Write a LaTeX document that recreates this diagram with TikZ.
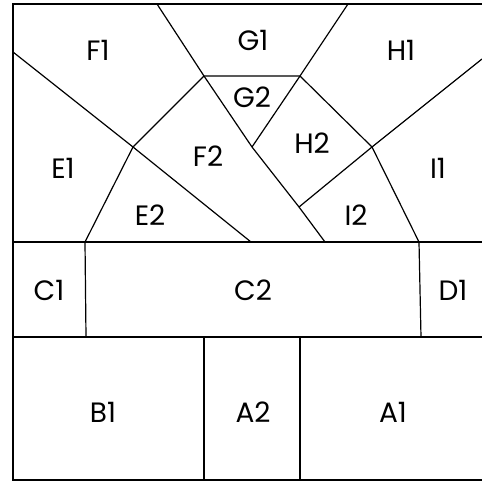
\documentclass[tikz,border=0pt]{standalone}
\usepackage{fontspec}
\setmainfont{Poppins}
\begin{document}
\begin{tikzpicture}[x=1pt,y=-1pt,
  edge/.style={draw=black,line width=1.2pt},
  frame/.style={draw=black,line width=2.2pt},
  lbl/.style={font=\fontsize{28}{28}\selectfont,inner sep=0pt,anchor=center}]
\useasboundingbox (0,0) rectangle (482,481);
% vertices
\coordinate (tl) at (13,4);
\coordinate (tr) at (482,4);
\coordinate (bl) at (13,480);
\coordinate (br) at (482,480);
\coordinate (g1l) at (157,4);
\coordinate (g1r) at (348,4);
\coordinate (a) at (204,76);
\coordinate (b) at (300,76);
\coordinate (c) at (133,147);
\coordinate (d) at (252,147);
\coordinate (e) at (372,147);
\coordinate (f) at (299,207);
\coordinate (lw) at (13,52);
\coordinate (re) at (482,59);
\coordinate (m1) at (85,242);
\coordinate (m2) at (251,242);
\coordinate (m3) at (325,242);
\coordinate (m4) at (419,242);
\coordinate (ml) at (13,242);
\coordinate (mr) at (482,242);
\coordinate (n1) at (86,337);
\coordinate (n2) at (204,337);
\coordinate (n3) at (300,337);
\coordinate (n4) at (421,337);
\coordinate (nl) at (13,337);
\coordinate (nr) at (482,337);
\coordinate (b2) at (204,480);
\coordinate (b3) at (300,480);
% inner edges
\draw[edge] (g1l) -- (a) -- (b) -- (g1r);
\draw[edge] (lw) -- (c) -- (m2);
\draw[edge] (a) -- (c) -- (m1);
\draw[edge] (a) -- (d) -- (f) -- (m3);
\draw[edge] (b) -- (d);
\draw[edge] (b) -- (e) -- (re);
\draw[edge] (e) -- (f);
\draw[edge] (e) -- (m4);
\draw[edge] (ml) -- (mr);
\draw[edge] (nl) -- (nr);
\draw[edge] (m1) -- (n1);
\draw[edge] (m4) -- (n4);
\draw[edge] (n2) -- (b2);
\draw[edge] (n3) -- (b3);
% frame
\draw[frame] (tr) -- (tl) -- (bl) -- (br);
% labels
\node[lbl] (F1) at (98,50) {F1};
\node[lbl] (G1) at (253,40) {G1};
\node[lbl] (H1) at (401,50) {H1};
\node[lbl] (G2) at (252,97) {G2};
\node[lbl] (F2) at (208,156) {F2};
\node[lbl] (H2) at (312,143) {H2};
\node[lbl] (E1) at (63,168) {E1};
\node[lbl] (I1) at (438,168) {I1};
\node[lbl] (E2) at (150,215) {E2};
\node[lbl] (I2) at (356,215) {I2};
\node[lbl] (C1) at (49,290) {C1};
\node[lbl] (C2) at (253,290) {C2};
\node[lbl] (D1) at (453,290) {D1};
\node[lbl] (B1) at (103,412) {B1};
\node[lbl] (A2) at (253,412) {A2};
\node[lbl] (A1) at (393,412) {A1};
\end{tikzpicture}
\end{document}
